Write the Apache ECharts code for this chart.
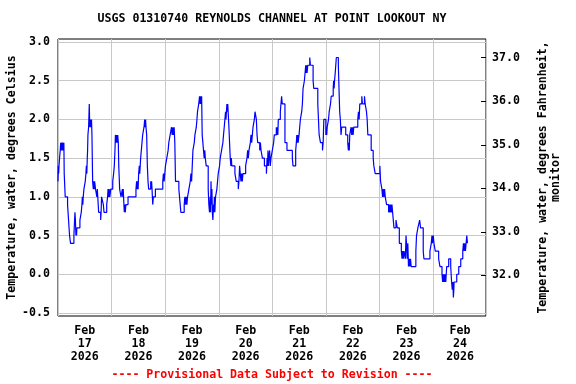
<!DOCTYPE html>
<html><head><meta charset="utf-8">
<script src="https://cdn.jsdelivr.net/npm/echarts@6/dist/echarts.min.js"></script>
<style>html,body{margin:0;padding:0;background:#fff}#c{width:576px;height:384px}</style>
</head><body><div id="c"></div>
<script>
// Hours since 2026-02-17 00:00 (local) and water temperature, degrees Celsius
const hoursSinceFeb17 = [
0,0.15,0.3,0.45,0.69,0.99,1.2,1.45,1.7,1.95,2.2,2.45,2.63,2.78,3.23,4.28,5.17,5.62,7.12,7.42,7.6,7.8,8.02,8.15,8.3,8.45,9.81,10.41,10.71,10.9,11.1,11.3,11.6,12.2,12.5,12.7,12.9,13.1,13.25,13.4,13.7,14.0,14.15,14.3,14.5,14.75,15.0,15.2,15.5,15.8,16.0,16.2,16.4,16.8,17.4,17.6,17.8,18.2,19.1,19.3,19.5,20.3,20.6,21.8,22.2,22.4,22.7,22.9,23.2,23.6,24.5,24.9,25.2,25.5,25.7,26.0,26.25,26.5,26.75,27.0,27.2,27.6,28.2,28.8,29.0,29.2,29.5,29.7,29.9,30.1,30.4,31.35,
34.9,35.2,35.4,35.6,35.85,36.1,36.4,36.6,36.8,37.0,37.3,37.6,37.9,38.5,38.8,39.0,39.2,39.4,39.7,40.0,40.3,40.6,41.5,41.7,41.9,42.1,42.4,42.7,43.6,46.9,47.2,47.5,47.8,48.1,48.7,49.3,49.6,50.2,50.8,51.1,51.4,51.7,52.0,52.3,52.6,54.1,54.4,55.0,56.5,56.8,57.1,57.4,57.7,58.0,58.6,59.2,59.5,59.8,60.1,60.4,61.0,61.3,61.9,62.2,62.45,63.0,63.35,63.65,63.9,64.1,64.3,64.55,64.85,
65.14,65.44,65.7,65.95,66.34,67.24,67.53,67.83,68.13,68.3,68.5,68.7,68.9,69.1,69.33,69.63,69.8,70.0,70.2,70.52,71.12,71.42,71.72,72.32,72.62,73.22,73.81,74.1,74.41,74.71,75.0,75.2,75.4,75.61,75.8,76.0,76.51,77.1,77.4,77.6,77.8,78.0,79.2,79.8,80.7,81.0,81.3,81.6,81.9,82.2,82.5,82.8,84.0,84.6,84.9,85.2,85.5,86.1,86.4,86.7,87.0,87.3,87.9,88.2,88.8,89.1,89.4,90.3,90.6,90.9,91.5,92.4,93.3,93.6,93.8,94.0,94.2,94.4,94.74,95.04,95.34,95.94,
96.54,96.83,97.73,97.95,98.2,98.4,98.63,99.53,100.1,100.4,101.6,102.5,104.9,105.2,106.4,106.7,106.9,107.1,107.3,107.5,107.9,108.2,108.5,109.1,109.4,109.7,110.3,110.6,110.9,111.1,111.3,111.5,111.8,112.7,113.0,114.2,114.5,116.3,116.6,116.9,117.5,118.4,118.7,119.0,119.9,120.1,120.3,120.5,121.1,121.4,122.0,122.3,123.2,123.4,123.6,123.8,124.1,124.6,125.5,126.1,126.4,126.7,127.0,
128.8,129.7,130.0,130.2,130.4,130.6,131.2,131.5,131.8,132.1,132.4,134.2,134.5,134.8,135.1,136.0,136.3,137.2,137.5,138.1,138.4,138.7,140.2,141.1,141.4,142.0,144.1,144.4,145.0,145.3,145.6,145.9,146.2,146.5,147.1,148.0,148.3,148.6,148.9,149.2,149.5,150.1,150.4,151.3,151.9,152.8,153.7,154.0,154.3,154.6,154.9,155.2,155.5,155.8,156.0,156.3,156.6,156.9,157.2,157.5,157.8,158.1,
160.2,160.5,161.1,161.9,162.3,163.5,163.8,166.5,167.1,167.4,167.6,168.0,168.3,168.9,170.4,171.0,171.9,172.2,172.4,172.6,172.8,173.0,173.3,173.6,174.0,174.9,175.8,176.2,176.5,176.8,177.0,177.2,177.3,178.5,179.4,180.3,181.2,181.5,181.8,182.1,182.4,182.7,183.0,183.3,183.6
];
const tempC = [
1.2,1.4,1.3,1.4,1.5,1.6,1.7,1.6,1.7,1.6,1.7,1.6,1.7,1.3,1.0,0.9,0.5,0.4,0.5,0.7,0.8,0.7,0.5,0.6,0.5,0.6,0.7,0.8,0.9,1.0,0.9,1.0,1.1,1.2,1.3,1.4,1.3,1.5,1.6,1.8,1.9,2.2,2.0,1.9,2.0,1.9,2.0,1.8,1.2,1.1,1.2,1.1,1.2,1.1,1.0,1.1,1.0,0.8,0.7,0.8,1.0,0.9,0.8,0.9,1.0,1.1,1.0,1.1,1.0,1.1,1.2,1.3,1.4,1.6,1.8,1.7,1.8,1.7,1.8,1.7,1.4,1.1,1.0,1.1,1.0,1.1,0.9,0.8,0.9,0.8,0.9,1.0,
1.1,1.2,1.1,1.2,1.1,1.3,1.4,1.3,1.4,1.5,1.6,1.7,1.8,1.9,2.0,1.9,2.0,1.9,1.8,1.4,1.2,1.1,1.2,1.1,1.2,1.1,0.9,1.0,1.1,1.2,1.3,1.2,1.3,1.4,1.5,1.6,1.7,1.8,1.9,1.8,1.9,1.8,1.9,1.7,1.2,1.1,1.0,0.8,0.9,1.0,0.9,1.0,0.9,1.0,1.1,1.2,1.3,1.2,1.4,1.6,1.7,1.8,1.9,2.0,2.1,2.2,2.3,2.2,2.3,2.2,2.3,1.8,1.7,
1.6,1.5,1.6,1.5,1.4,1.1,0.9,0.8,1.0,0.8,1.2,0.9,1.1,0.8,0.7,0.9,0.8,1.0,0.8,1.0,1.1,1.2,1.3,1.4,1.5,1.6,1.7,1.8,1.9,2.0,2.1,2.0,2.1,2.2,2.1,2.2,1.9,1.5,1.4,1.5,1.4,1.4,1.3,1.2,1.1,1.2,1.4,1.3,1.2,1.3,1.2,1.3,1.4,1.5,1.6,1.5,1.6,1.7,1.8,1.7,1.8,1.9,2.0,2.1,2.0,1.8,1.7,1.6,1.7,1.6,1.5,1.4,1.3,1.5,1.4,1.6,1.4,1.5,1.6,1.4,1.5,1.6,
1.7,1.8,1.9,1.8,1.9,1.8,2.0,2.1,2.3,2.2,1.7,1.6,1.5,1.4,1.6,1.7,1.8,1.7,1.8,1.7,1.8,1.9,2.0,2.1,2.2,2.4,2.5,2.6,2.7,2.6,2.7,2.6,2.7,2.8,2.7,2.5,2.4,2.2,2.0,1.8,1.7,1.6,1.7,2.0,1.8,1.9,1.8,1.9,2.0,2.1,2.2,2.3,2.4,2.5,2.4,2.5,2.6,2.8,2.7,2.1,2.0,1.8,1.9,
1.8,1.7,1.6,1.7,1.6,1.8,1.9,1.8,1.9,1.8,1.9,2.0,2.1,2.0,2.2,2.3,2.2,2.3,2.2,2.1,2.0,1.8,1.6,1.5,1.4,1.3,1.4,1.2,1.1,1.0,1.1,1.0,1.1,1.0,0.9,0.8,0.9,0.8,0.9,0.8,0.9,0.7,0.6,0.7,0.6,0.4,0.3,0.2,0.3,0.2,0.3,0.3,0.2,0.5,0.4,0.2,0.4,0.1,0.2,0.1,0.2,0.1,
0.3,0.5,0.6,0.7,0.6,0.3,0.2,0.3,0.4,0.5,0.4,0.5,0.4,0.3,0.2,0.1,0.0,-0.1,0.0,-0.1,0.0,-0.1,0.0,-0.1,0.1,0.2,0.1,-0.1,-0.2,-0.1,-0.3,-0.2,-0.1,0.0,0.1,0.2,0.3,0.4,0.3,0.4,0.3,0.4,0.5,0.4,0.4
];
const dayLabelHours = [12, 36, 60, 84, 108, 132, 156, 180];
const dayLabels = ['Feb\n17\n2026','Feb\n18\n2026','Feb\n19\n2026','Feb\n20\n2026','Feb\n21\n2026','Feb\n22\n2026','Feb\n23\n2026','Feb\n24\n2026'];
const celsiusTicks = [-0.5, 0, 0.5, 1, 1.5, 2, 2.5, 3];
const fahrenheitTicks = [32, 33, 34, 35, 36, 37];

const FONT = 'DejaVu Sans Mono';
const FS = 11.6;
const seriesData = hoursSinceFeb17.map((h, i) => [h, tempC[i]]);

const chart = echarts.init(document.getElementById('c'), null, {renderer: 'canvas'});
chart.setOption({
  animation: false,
  backgroundColor: '#fff',
  grid: {left: 58, right: 90, top: 39, bottom: 68, containLabel: false, outerBoundsMode: 'none', show: true, borderColor: '#000', borderWidth: 1, backgroundColor: 'transparent'},
  xAxis: {
    type: 'value', min: 0, max: 191.6, interval: 24,
    axisLine: {show: false}, axisTick: {show: false},
    splitLine: {show: true, lineStyle: {color: '#c8c8c8', width: 1}},
    axisLabel: {
      customValues: dayLabelHours,
      formatter: v => dayLabels[dayLabelHours.indexOf(Math.round(v))] || '',
      margin: 8, lineHeight: 13, color: '#000', fontFamily: FONT, fontWeight: 'bold', fontSize: FS
    }
  },
  yAxis: [{
    type: 'value', position: 'left', min: -0.539, max: 3.039,
    axisLine: {show: false},
    axisTick: {show: false, customValues: celsiusTicks},
    splitLine: {show: true, lineStyle: {color: '#c8c8c8', width: 1}},
    axisLabel: {customValues: celsiusTicks, formatter: v => v.toFixed(1), margin: 8, color: '#000', fontFamily: FONT, fontWeight: 'bold', fontSize: FS},
    name: 'Temperature, water, degrees Celsius', nameLocation: 'middle', nameRotate: 90, nameGap: 40, nameMoveOverlap: false,
    nameTextStyle: {color: '#000', fontFamily: FONT, fontWeight: 'bold', fontSize: FS}
  }, {
    type: 'value', position: 'right', min: 31.065, max: 37.43,
    axisLine: {show: false},
    axisTick: {show: true, inside: true, length: 5, customValues: fahrenheitTicks, lineStyle: {color: '#000', width: 1}},
    splitLine: {show: false},
    axisLabel: {customValues: fahrenheitTicks, formatter: v => v.toFixed(1), margin: 6, color: '#000', fontFamily: FONT, fontWeight: 'bold', fontSize: FS},
    name: 'Temperature, water, degrees Fahrenheit,\nmonitor', nameLocation: 'middle', nameRotate: 90, nameGap: 50, nameMoveOverlap: false,
    nameTextStyle: {color: '#000', fontFamily: FONT, fontWeight: 'bold', fontSize: FS, lineHeight: 13}
  }],
  series: [{
    type: 'line', yAxisIndex: 0, data: seriesData, step: 'end',
    symbol: 'none', showSymbol: false,
    lineStyle: {color: '#0000ff', width: 1.2}
  }],
  graphic: [
    {type: 'text', x: 272, y: 19, style: {text: 'USGS 01310740 REYNOLDS CHANNEL AT POINT LOOKOUT NY', fill: '#000', font: 'bold ' + FS + 'px "' + FONT + '"', textAlign: 'center', textVerticalAlign: 'middle'}},
    {type: 'text', x: 272, y: 375, style: {text: '---- Provisional Data Subject to Revision ----', fill: '#ff0000', font: 'bold ' + FS + 'px "' + FONT + '"', textAlign: 'center', textVerticalAlign: 'middle'}}
  ]
});
</script></body></html>
